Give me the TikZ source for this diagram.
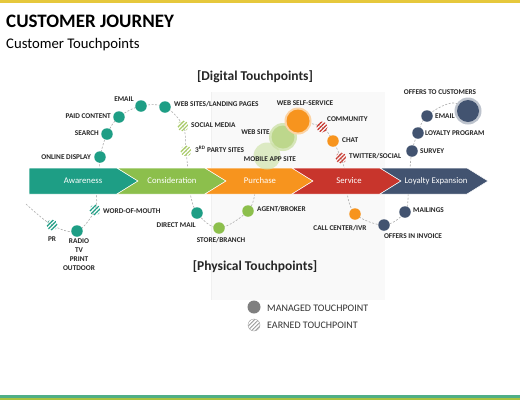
\documentclass[tikz,border=0pt]{standalone}
\usepackage{fontspec}
\setmainfont{Carlito}
\usetikzlibrary{patterns.meta}
\pgfdeclarelayer{bg}\pgfsetlayers{bg,main}
\definecolor{cteal}{HTML}{1E9E85}
\definecolor{cgreen}{HTML}{8CBF4C}
\definecolor{clgreen}{HTML}{A8CB66}
\definecolor{corange}{HTML}{F7941E}
\definecolor{cred}{HTML}{C8352C}
\definecolor{cnavy}{HTML}{425370}
\definecolor{cgray}{HTML}{7F7F7F}
\definecolor{cyel}{HTML}{E6C83C}
\definecolor{cbotA}{HTML}{4FAF87}
\definecolor{cbotB}{HTML}{A9C23F}
\tikzset{
  tp/.style={circle, inner sep=0pt, minimum size=11.5pt, fill=#1},
  eh/.style={circle, inner sep=0pt, minimum size=11pt,
     pattern={Lines[angle=45,distance=2.8pt,line width=1.2pt]}, pattern color=#1},
  lbl/.style={font=\fontsize{7.3}{9}\selectfont\bfseries, text=black!85, inner sep=0pt},
  conn/.style={draw=gray!65, dash pattern=on 2pt off 1.6pt, line width=0.6pt},
  stage/.style={font=\fontsize{8.7}{10}\selectfont, text=white, inner sep=0pt},
  chev/.style={draw=white, line width=0.5pt, fill=#1},
  hdr/.style={font=\fontsize{13.5}{15}\selectfont\bfseries, text=black!85, inner sep=0pt},
  leg/.style={font=\fontsize{10}{11}\selectfont, text=black!80, inner sep=0pt, anchor=west}
}
\begin{document}
\begin{tikzpicture}[x=1pt,y=-1pt]
\useasboundingbox (0,0) rectangle (520,400);
% bars
\fill[cyel] (0,0) rectangle (520,3);
\fill[cbotA] (0,395) rectangle (520,397.5);
\fill[cbotB] (0,397.5) rectangle (520,400);
% titles
\node[anchor=base west, inner sep=0pt, font=\fontsize{19}{21}\selectfont\bfseries] (title) at (6,27) {CUSTOMER JOURNEY};
\node[anchor=base west, inner sep=0pt, font=\fontsize{14.7}{16}\selectfont] (subtitle) at (6,48.5) {Customer Touchpoints};
\node[hdr] (digital) at (255,77) {[Digital Touchpoints]};
\node[hdr] (physical) at (255,267) {[Physical Touchpoints]};
% chevrons
\draw[chev=cteal] (29,168) -- (117,168) -- (138,181) -- (117,194) -- (29,194) -- cycle;
\draw[chev=cgreen] (117,168) -- (205,168) -- (226,181) -- (205,194) -- (117,194) -- (138,181) -- cycle;
\draw[chev=corange] (205,168) -- (292,168) -- (313,181) -- (292,194) -- (205,194) -- (226,181) -- cycle;
\draw[chev=cred] (292,168) -- (380,168) -- (401,181) -- (380,194) -- (292,194) -- (313,181) -- cycle;
\draw[chev=cnavy] (380,168) -- (467,168) -- (488,181) -- (467,194) -- (380,194) -- (401,181) -- cycle;
\node[stage] (s1) at (83,181) {Awareness};
\node[stage] (s2) at (172,181) {Consideration};
\node[stage] (s3) at (260,181) {Purchase};
\node[stage] (s4) at (349,181) {Service};
\node[stage] (s5) at (436,181) {Loyalty Expansion};
% anchor coordinates on the band
\coordinate (awT) at (100,170);
\coordinate (awB) at (96,192);
\coordinate (coT) at (188,170);
\coordinate (coB) at (190,192);
\coordinate (puB) at (255,192);
\coordinate (seT) at (345,170);
\coordinate (seB) at (347,192);
\coordinate (loT) at (410,170);
\coordinate (loB) at (408,192);
\coordinate (prstart) at (26,204);
% digital awareness / consideration
\node[tp=cteal] (od) at (100,157) {};
\node[tp=cteal] (se) at (107,134) {};
\node[tp=cteal] (pc) at (119,117) {};
\node[tp=cteal] (em) at (141,106) {};
\node[tp=cteal] (ws) at (165,107) {};
\node[eh=clgreen] (sm) at (183,126) {};
\node[eh=clgreen] (tps) at (186,151) {};
\node[lbl, anchor=east] (lod) at (91,157) {ONLINE DISPLAY};
\node[lbl, anchor=east] (lse) at (99,133) {SEARCH};
\node[lbl, anchor=east] (lpc) at (111,116) {PAID CONTENT};
\node[lbl] (lem) at (124,99) {EMAIL};
\node[lbl, anchor=west] (lws) at (174,104) {WEB SITES/LANDING PAGES};
\node[lbl, anchor=west] (lsm) at (191,125) {SOCIAL MEDIA};
\node[lbl, anchor=west] (ltps) at (195,149) {3\textsuperscript{RD} PARTY SITES};
% physical awareness
\node[eh=cteal] (wom) at (95,210) {};
\node[tp=cteal] (rad) at (77,231) {};
\node[eh=cteal] (pr) at (52,225) {};
\node[lbl, anchor=west] (lwom) at (103,211) {WORD-OF-MOUTH};
\node[lbl, anchor=north, align=center] (lrad) at (79,238.5) {RADIO\\TV\\PRINT\\OUTDOOR};
\node[lbl] (lpr) at (52,239) {PR};
% physical consideration / purchase
\node[tp=cteal] (dm) at (197,213) {};
\node[tp=cgreen] (sb) at (219,228) {};
\node[tp=cgreen] (ab) at (248,211) {};
\node[lbl, anchor=east] (ldm) at (196,225) {DIRECT MAIL};
\node[lbl] (lsb) at (221,240) {STORE/BRANCH};
\node[lbl, anchor=west] (lab) at (257,209) {AGENT/BROKER};
% digital purchase / service
\fill[clgreen!50, opacity=0.75] (267,156) circle (13.5);
\fill[clgreen!60, opacity=0.75] (283,137) circle (14);
\fill[clgreen!80, opacity=0.85] (283,137) circle (11.5);
\node[circle, inner sep=0pt, minimum size=23pt, opacity=0] (web) at (283,137) {};
\node[circle, inner sep=0pt, minimum size=24pt, opacity=0] (mob) at (267,156) {};
\fill[corange!40] (298,121) circle (13.5);
\node[circle, inner sep=0pt, minimum size=23pt, fill=corange] (wss) at (298,121) {};
\node[eh=cred] (com) at (322,127) {};
\node[tp=corange] (chat) at (333,141) {};
\node[eh=cred] (tw) at (341,158) {};
\node[lbl, anchor=east] (lweb) at (270,132) {WEB SITE};
\node[lbl] (lmob) at (270,159) {MOBILE APP SITE};
\node[lbl] (lwss) at (305,103) {WEB SELF-SERVICE};
\node[lbl, anchor=west] (lcom) at (327,119) {COMMUNITY};
\node[lbl, anchor=west] (lchat) at (342,140) {CHAT};
\node[lbl, anchor=west] (ltw) at (349,156) {TWITTER/SOCIAL};
% physical service / loyalty
\node[tp=corange] (cc) at (355,214) {};
\node[tp=cnavy] (oi) at (384,225) {};
\node[tp=cnavy] (ml) at (405,212) {};
\node[lbl] (lcc) at (340,228) {CALL CENTER/IVR};
\node[lbl] (loi) at (413,236) {OFFERS IN INVOICE};
\node[lbl, anchor=west] (lml) at (413,210) {MAILINGS};
% digital loyalty
\node[tp=cnavy] (sv) at (412,151) {};
\node[tp=cnavy] (lp) at (418,133) {};
\node[tp=cnavy] (em2) at (427,116) {};
\fill[cnavy!35] (468,111) circle (13.5);
\node[circle, inner sep=0pt, minimum size=22pt, fill=cnavy] (otc) at (468,111) {};
\node[lbl, anchor=west] (lsv) at (420,151) {SURVEY};
\node[lbl, anchor=west] (llp) at (425,133) {LOYALTY PROGRAM};
\node[lbl, anchor=west] (lem2) at (435,116) {EMAIL};
\node[lbl] (lotc) at (440,92) {OFFERS TO CUSTOMERS};
% legend
\node[circle, inner sep=0pt, minimum size=13pt, fill=cgray] (legm) at (254,307) {};
\node[circle, inner sep=0pt, minimum size=12pt, draw=cgray!70, line width=0.4pt,
   pattern={Lines[angle=45,distance=2.8pt,line width=0.9pt]}, pattern color=cgray!80] (lege) at (254,325) {};
\node[leg] (llegm) at (267,308) {MANAGED TOUCHPOINT};
\node[leg] (llege) at (267,325) {EARNED TOUCHPOINT};
% background layer: page, panel and connectors
\begin{pgfonlayer}{bg}
\fill[white] (0,3) rectangle (520,395);
\fill[black!2.5] (211,92) rectangle (385,300);
\draw[black!6, line width=0.5pt] (211,92) -- (211,300);
\draw[conn] plot[smooth, tension=0.6] coordinates {(awT) (od) (se) (pc) (em) (ws) (sm) (tps) (coT)};
\draw[conn] plot[smooth, tension=0.6] coordinates {(prstart) (pr) (rad) (wom) (awB)};
\draw[conn] plot[smooth, tension=0.6] coordinates {(coB) (dm) (sb) (ab) (puB)};
\draw[conn] plot[smooth, tension=0.6] coordinates {(wss) (com) (chat) (tw) (seT)};
\draw[conn] plot[smooth, tension=0.6] coordinates {(seB) (cc) (oi) (ml) (loB)};
\draw[conn] plot[smooth, tension=0.7] coordinates {(loT) (sv) (lp) (em2) (452,103) (otc)};
\end{pgfonlayer}
\end{tikzpicture}
\end{document}
